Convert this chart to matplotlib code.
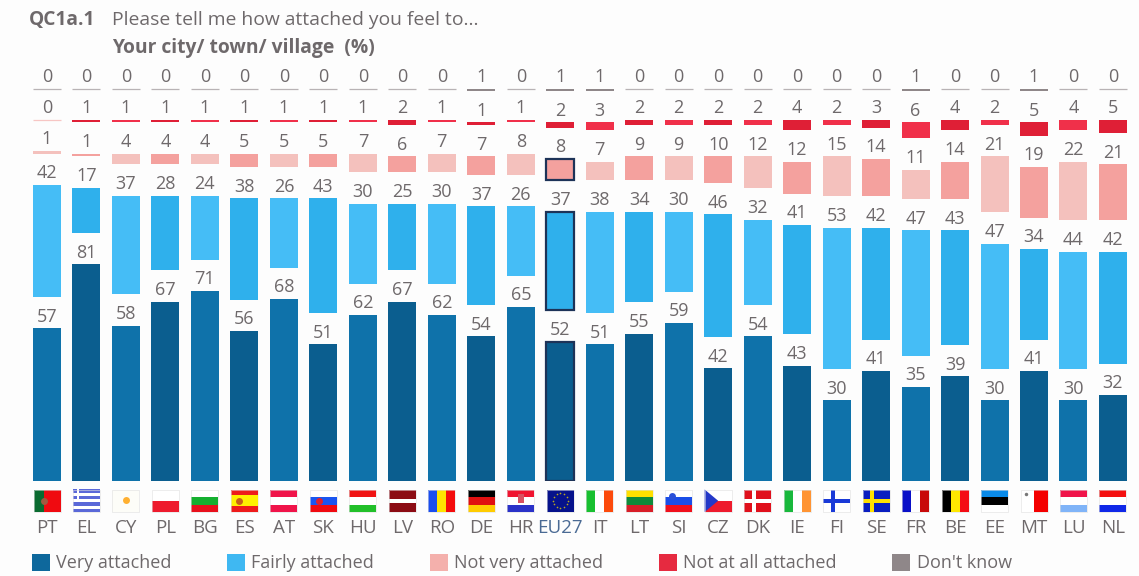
import numpy as np
import matplotlib
matplotlib.use("Agg")
import matplotlib.pyplot as plt
from matplotlib.patches import Rectangle, Polygon, Patch

countries = ["PT", "EL", "CY", "PL", "BG", "ES", "AT", "SK", "HU", "LV", "RO", "DE", "HR", "EU27",
             "IT", "LT", "SI", "CZ", "DK", "IE", "FI", "SE", "FR", "BE", "EE", "MT", "LU", "NL"]
very = [57, 81, 58, 67, 71, 56, 68, 51, 62, 67, 62, 54, 65, 52, 51, 55, 59, 42, 54, 43, 30, 41, 35, 39, 30, 41, 30, 32]
fairly = [42, 17, 37, 28, 24, 38, 26, 43, 30, 25, 30, 37, 26, 37, 38, 34, 30, 46, 32, 41, 53, 42, 47, 43, 47, 34, 44, 42]
not_very = [1, 1, 4, 4, 4, 5, 5, 5, 7, 6, 7, 7, 8, 8, 7, 9, 9, 10, 12, 12, 15, 14, 11, 14, 21, 19, 22, 21]
not_at_all = [0, 1, 1, 1, 1, 1, 1, 1, 1, 2, 1, 1, 1, 2, 3, 2, 2, 2, 2, 4, 2, 3, 6, 4, 2, 5, 4, 5]
dont_know = [0, 0, 0, 0, 0, 0, 0, 0, 0, 0, 0, 1, 0, 1, 1, 0, 0, 0, 0, 0, 0, 0, 1, 0, 0, 1, 0, 0]

series = [very, fairly, not_very, not_at_all, dont_know]
names = ["Very attached", "Fairly attached", "Not very attached", "Not at all attached", "Don't know"]
# the source alternates two shades from bar to bar
light = ["#0f72aa", "#45bdf6", "#f4c1bd", "#f0304a", "#8f8789"]
dark = ["#0b5e8f", "#2fb0ec", "#f4a19e", "#df1f36", "#8f8789"]
swatch = ["#0e689c", "#3fb8f2", "#f4b0ac", "#e62a40", "#8f8789"]
zero_col = [None, None, "#f7c6c4", "#f7c6c4", "#b8b3b5"]

# horizontal stripes (top to bottom) or vertical stripes (left to right), as (colour, share)
WHITE = "#ffffff"
flags = {
    "PT": ("v", [("#0a6b30", 2), ("#f00a10", 3)]),
    "EL": ("h", [("#5a68d8", 1), (WHITE, 1), ("#5a68d8", 1), (WHITE, 1), ("#5a68d8", 1), (WHITE, 1), ("#5a68d8", 1)]),
    "CY": ("h", [("#fdfdf8", 1)]),
    "PL": ("h", [(WHITE, 1), ("#ee1b2d", 1)]),
    "BG": ("h", [(WHITE, 1), ("#15b030", 1), ("#e8101c", 1)]),
    "ES": ("h", [("#ee1b1b", 1), ("#fff000", 2), ("#ee1b1b", 1)]),
    "AT": ("h", [("#f0144a", 1), (WHITE, 1), ("#f0144a", 1)]),
    "SK": ("h", [(WHITE, 1), ("#1a55f0", 1), ("#f00a10", 1)]),
    "HU": ("h", [("#f01414", 1), (WHITE, 1), ("#22c02a", 1)]),
    "LV": ("h", [("#8c0c14", 2), (WHITE, 1), ("#8c0c14", 2)]),
    "RO": ("v", [("#1a4ef0", 1), ("#ffe400", 1), ("#f40c0c", 1)]),
    "DE": ("h", [("#000000", 1), ("#e01010", 1), ("#ffcc00", 1)]),
    "HR": ("h", [("#f01430", 1), (WHITE, 1), ("#2a32c8", 1)]),
    "EU27": ("h", [("#06128c", 1)]),
    "IT": ("v", [("#18c030", 1), (WHITE, 1), ("#fc4a0c", 1)]),
    "LT": ("h", [("#ffe000", 1), ("#0f8a3a", 1), ("#d81e28", 1)]),
    "SI": ("h", [(WHITE, 1), ("#1a4ee8", 1), ("#f0101c", 1)]),
    "CZ": ("h", [(WHITE, 1), ("#ee1b2d", 1)]),
    "DK": ("h", [("#e0101c", 1)]),
    "IE": ("v", [("#18b83c", 1), (WHITE, 1), ("#ff9433", 1)]),
    "FI": ("h", [(WHITE, 1)]),
    "SE": ("h", [("#0a1ec0", 1)]),
    "FR": ("v", [("#0a10c8", 1), (WHITE, 1), ("#c80a0a", 1)]),
    "BE": ("v", [("#000000", 1), ("#ffe800", 1), ("#f40c14", 1)]),
    "EE": ("h", [("#0a8ae8", 1), ("#000000", 1), (WHITE, 1)]),
    "MT": ("v", [(WHITE, 1), ("#f40000", 1)]),
    "LU": ("h", [("#f0144a", 1), (WHITE, 1), ("#80b4f8", 1)]),
    "NL": ("h", [("#f41010", 1), (WHITE, 1), ("#1028e8", 1)]),
}
crosses = {"DK": (WHITE, 0.36), "FI": ("#1a3ad8", 0.36), "SE": ("#ffe000", 0.36)}
emblems = {"PT": ("#a05a40", 0.4, 0.5), "ES": ("#c8601a", 0.3, 0.5), "SK": ("#e02030", 0.32, 0.5),
           "SI": ("#2a50d8", 0.25, 0.72), "CY": ("#ffb030", 0.5, 0.55), "MT": ("#777777", 0.2, 0.8)}

W, H = 1139, 576
TEXT = "#6e696b"
X0, PITCH = 47, 39.48
BASE_PX, PX_PER_PCT = 480.5, 2.67
GAP = 11.7
BAR_W = 28 / PITCH

plt.rcParams["font.family"] = ["Open Sans", "DejaVu Sans"]
fig = plt.figure(figsize=(W / 100, H / 100), dpi=100, facecolor="#fdfdfd")
ax = fig.add_axes([0, 1 - BASE_PX / H, 1, BASE_PX / H])
ax.set_facecolor("none")
ax.set_xlim(-X0 / PITCH, (W - X0) / PITCH)
ax.set_ylim(0, BASE_PX / PX_PER_PCT)
for s in ax.spines.values():
    s.set_visible(False)
ax.set_yticks([])

x = np.arange(len(countries))
bottom = np.zeros(len(countries))
for k, vals in enumerate(series):
    vals = np.array(vals)
    cols = [light[k] if i % 2 == 0 else dark[k] for i in x]
    cols = [zero_col[k] if v == 0 else c for v, c in zip(vals, cols)]
    bars = ax.bar(x, vals, BAR_W, bottom=bottom, color=cols, edgecolor=cols,
                  linewidth=[0.9 if v == 0 else 0.0 for v in vals])
    if k < 3:
        # EU27 gets a dark outline
        bars[13].set_edgecolor("#1d3358")
        bars[13].set_linewidth(1.6)
    for i in x:
        ax.text(i, bottom[i] + vals[i] + 1.0, str(vals[i]), ha="center", va="bottom",
                fontsize=13, color=TEXT, clip_on=False)
    bottom = bottom + vals + GAP

ax.set_xticks(x)
ax.set_xticklabels(countries, fontsize=13.5, color=TEXT)
ax.tick_params(axis="x", length=0, pad=27.5)
ax.get_xticklabels()[13].set_color("#4a6a94")

# flags sit in the band between the baseline and the country codes
FW, FTOP, FH = 27 / PITCH, -9 / PX_PER_PCT, 22.5 / PX_PER_PCT


def add_patch(p):
    p.set_clip_on(False)
    ax.add_patch(p)


def draw_flag(i, code):
    left = i - FW / 2
    top = FTOP
    kind, stripes = flags[code]
    total = sum(s for _, s in stripes)
    pos = 0
    for col, share in stripes:
        if kind == "h":
            add_patch(Rectangle((left, top - (pos + share) / total * FH), FW, share / total * FH, fc=col, lw=0))
        else:
            add_patch(Rectangle((left + pos / total * FW, top - FH), share / total * FW, FH, fc=col, lw=0))
        pos += share
    if code == "EL":
        add_patch(Rectangle((left, top - FH * 3 / 7), FW * 0.36, FH * 3 / 7, fc="#5a68d8", lw=0))
        add_patch(Rectangle((left + FW * 0.14, top - FH * 3 / 7), FW * 0.08, FH * 3 / 7, fc=WHITE, lw=0))
        add_patch(Rectangle((left, top - FH * 2 / 7), FW * 0.36, FH / 7, fc=WHITE, lw=0))
    if code == "HR":
        add_patch(Rectangle((left + FW * 0.38, top - FH * 0.62), FW * 0.24, FH * 0.42, fc="#d85060", lw=0))
    if code == "CZ":
        add_patch(Polygon([(left, top), (left, top - FH), (left + FW * 0.5, top - FH / 2)], fc="#2438c8", lw=0))
    if code in crosses:
        col, cx = crosses[code]
        add_patch(Rectangle((left + FW * cx - FW * 0.08, top - FH), FW * 0.16, FH, fc=col, lw=0))
        add_patch(Rectangle((left, top - FH * 0.6), FW, FH * 0.2, fc=col, lw=0))
    if code == "EU27":
        for a in np.arange(12) * np.pi / 6:
            ax.plot(i + FW * 0.27 * np.cos(a), top - FH / 2 + FH * 0.33 * np.sin(a), "o", ms=1.2,
                    color="#b8a820", clip_on=False, mew=0)
    if code in emblems:
        col, ex, ey = emblems[code]
        ax.plot(left + FW * ex, top - FH * (1 - ey), "o", ms=5 if code != "MT" else 2.5, color=col,
                clip_on=False, mew=0)
    # pale rim, the white flags need it
    add_patch(Rectangle((left, top - FH), FW, FH, fc="none", ec="#e0e0e0", lw=0.4))


for i, code in zip(x, countries):
    draw_flag(i, code)

handles = [Patch(fc=c, lw=0) for c in swatch]
leg = fig.legend(handles, names, ncol=5, loc="lower left", bbox_to_anchor=(28 / W, 0),
                 frameon=False, fontsize=13, labelcolor=TEXT, handlelength=1.0, handleheight=1.1,
                 handletextpad=0.35, columnspacing=3.08, borderpad=0.2, borderaxespad=0)

fig.text(29 / W, 1 - 20 / H, "QC1a.1", fontsize=13.8, fontweight="bold", color=TEXT, va="center")
fig.text(112 / W, 1 - 20 / H, "Please tell me how attached you feel to...", fontsize=13.85, color=TEXT, va="center")
fig.text(112 / W, 1 - 48 / H, "Your city/ town/ village  (%)", fontsize=13.85, fontweight="bold", color=TEXT, va="center")

fig.savefig("out.png", dpi=100, facecolor=fig.get_facecolor())
